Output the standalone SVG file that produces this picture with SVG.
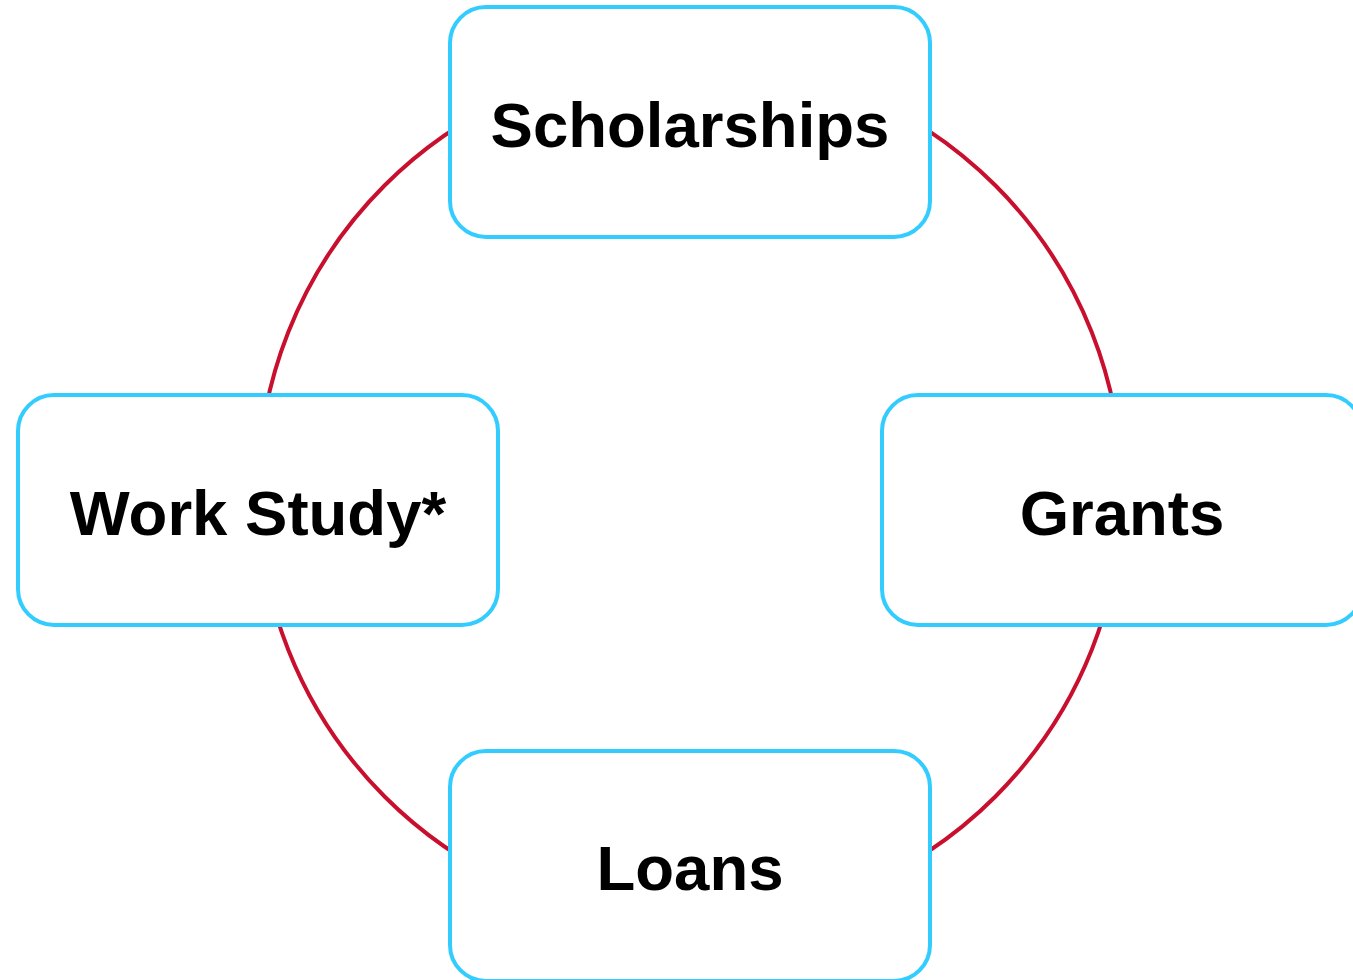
<svg xmlns="http://www.w3.org/2000/svg" width="1353" height="980" viewBox="0 0 1353 980">
<style>
.node rect{fill:#fff;stroke:#33CCFF;stroke-width:4}
.node text{font-family:"Liberation Sans",Arial,sans-serif;font-weight:bold;font-size:63.5px;fill:#000;text-anchor:middle}
.conn{fill:none;stroke:#C8102E;stroke-width:4}
</style>
<rect width="1353" height="980" fill="#fff"/>
<g id="connectors">
<circle class="conn" cx="690" cy="491" r="432"/>
</g>
<g id="scholarships" class="node">
<rect x="450" y="7" width="480" height="230" rx="36"/>
<text x="690" y="147">Scholarships</text>
</g>
<g id="work-study" class="node">
<rect x="18" y="395" width="480" height="230" rx="36"/>
<text x="258" y="535">Work Study*</text>
</g>
<g id="grants" class="node">
<rect x="882" y="395" width="480" height="230" rx="36"/>
<text x="1122" y="535">Grants</text>
</g>
<g id="loans" class="node">
<rect x="450" y="751" width="480" height="230" rx="36"/>
<text x="690" y="890">Loans</text>
</g>
</svg>
